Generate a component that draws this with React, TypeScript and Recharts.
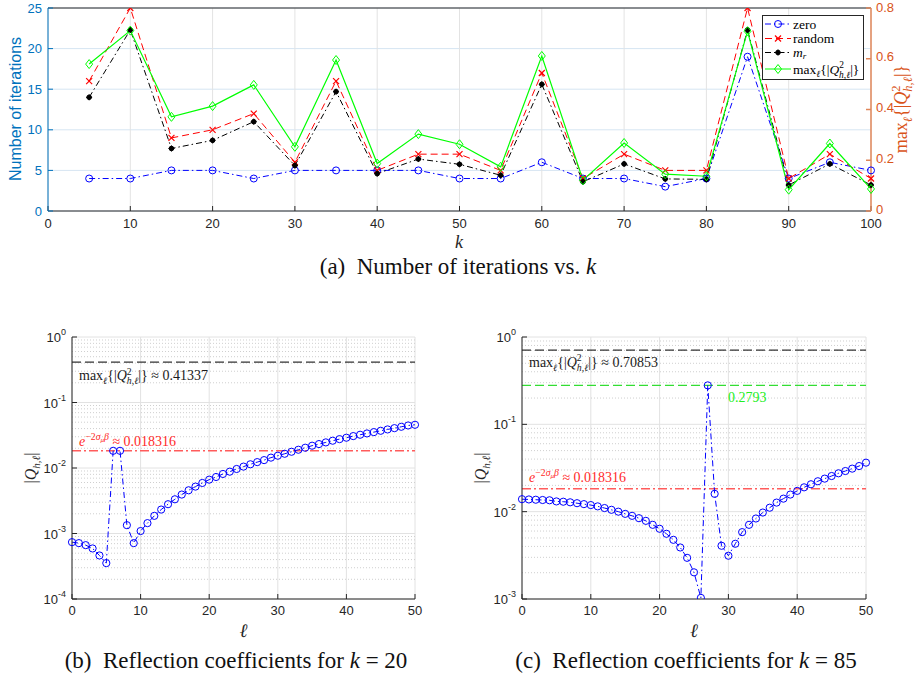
import React from 'react'
import { LineChart, Line, XAxis, YAxis, CartesianGrid, ReferenceLine } from 'recharts'

const SERIF = '"Liberation Serif", "DejaVu Serif", serif'
const SANS = '"Liberation Sans", Arial, sans-serif'
const AXIS = '#262626'
const BLUE_AX = '#0072BD'
const ORANGE_AX = '#D95319'

// (a) number of iterations vs k
const kValues = [5, 10, 15, 20, 25, 30, 35, 40, 45, 50, 55, 60, 65, 70, 75, 80, 85, 90, 95, 100]
const itersZero = [4, 4, 5, 5, 4, 5, 5, 5, 5, 4, 4, 6, 4, 4, 3, 4, 19, 4, 6, 5]
const itersRandom = [16, 25, 9, 10, 12, 6, 16, 5, 7, 7, 5, 17, 4, 7, 5, 5, 25, 4, 7, 4]
const itersMr = [14, 22.3, 7.7, 8.7, 11, 5.6, 14.7, 4.6, 6.4, 5.75, 4.4, 15.6, 3.6, 5.8, 3.95, 3.9, 22.3, 3.2, 5.8, 3.2]
const maxQ2 = [0.579, 0.711, 0.371, 0.41337, 0.497, 0.253, 0.595, 0.187, 0.303, 0.263, 0.174, 0.611, 0.121, 0.268, 0.145, 0.137, 0.70853, 0.084, 0.266, 0.087]
const kTicks = [0, 10, 20, 30, 40, 50, 60, 70, 80, 90, 100]
const iterTicks = [0, 5, 10, 15, 20, 25]
const q2Ticks = [0, 0.2, 0.4, 0.6, 0.8]

// (b), (c) reflection coefficients
const ellValues = [0, 1, 2, 3, 4, 5, 6, 7, 8, 9, 10, 11, 12, 13, 14, 15, 16, 17, 18, 19, 20, 21, 22, 23, 24, 25,
  26, 27, 28, 29, 30, 31, 32, 33, 34, 35, 36, 37, 38, 39, 40, 41, 42, 43, 44, 45, 46, 47, 48, 49, 50]
const qK20 = [7.38e-4, 7.13e-4, 6.64e-4, 5.91e-4, 4.62e-4, 3.53e-4, 1.83e-2, 1.83e-2, 1.34e-3, 7.13e-4,
  1.09e-3, 1.44e-3, 1.86e-3, 2.32e-3, 2.80e-3, 3.33e-3, 3.93e-3, 4.57e-3, 5.20e-3, 5.91e-3,
  6.64e-3, 7.29e-3, 8.11e-3, 8.79e-3, 9.66e-3, 1.05e-2, 1.14e-2, 1.23e-2, 1.32e-2, 1.44e-2,
  1.54e-2, 1.65e-2, 1.77e-2, 1.90e-2, 2.04e-2, 2.19e-2, 2.32e-2, 2.46e-2, 2.61e-2, 2.76e-2,
  2.90e-2, 3.07e-2, 3.22e-2, 3.37e-2, 3.53e-2, 3.70e-2, 3.88e-2, 4.06e-2, 4.26e-2, 4.46e-2, 4.57e-2]
const qK85 = [1.39e-2, 1.38e-2, 1.37e-2, 1.36e-2, 1.35e-2, 1.31e-2, 1.30e-2, 1.28e-2, 1.25e-2, 1.22e-2,
  1.19e-2, 1.15e-2, 1.10e-2, 1.05e-2, 1.00e-2, 9.44e-3, 8.96e-3, 8.42e-3, 7.85e-3, 7.07e-3,
  6.37e-3, 5.58e-3, 4.76e-3, 3.89e-3, 2.96e-3, 2.02e-3, 1.03e-3, 0.2793, 1.60e-2, 4.07e-3,
  3.13e-3, 4.29e-3, 5.83e-3, 7.07e-3, 8.35e-3, 9.77e-3, 1.11e-2, 1.27e-2, 1.41e-2, 1.57e-2,
  1.73e-2, 1.90e-2, 2.06e-2, 2.23e-2, 2.39e-2, 2.56e-2, 2.75e-2, 2.92e-2, 3.11e-2, 3.33e-2, 3.64e-2]
const ellTicks = [0, 10, 20, 30, 40, 50]
const decadesB = [1e-4, 1e-3, 1e-2, 1e-1, 1]
const decadesC = [1e-3, 1e-2, 1e-1, 1]
const maxQ2K20 = 0.41337
const maxQ2K85 = 0.70853
const peakK85 = 0.2793
const expBound = 0.018316

function minorLines(decades: number[]) {
  const out: number[] = []
  for (let i = 0; i < decades.length - 1; i++) for (let m = 2; m <= 9; m++) out.push(decades[i] * m)
  return out
}

const noTick = () => <g />

// math-ish text pieces
function maxQSpans(fs: number) {
  const s = fs * 0.7
  return [
    <tspan key="m">max</tspan>,
    <tspan key="l" fontSize={s} fontStyle="italic" dy={fs * 0.25}>ℓ</tspan>,
    <tspan key="b" dy={-fs * 0.25}>{'{|'}</tspan>,
    <tspan key="q" fontStyle="italic">Q</tspan>,
    <tspan key="two" fontSize={s} dy={-fs * 0.4}>2</tspan>,
    <tspan key="hl" fontSize={s} fontStyle="italic" dx={-s * 0.5} dy={fs * 0.7}>h,ℓ</tspan>,
    <tspan key="e" dy={-fs * 0.3}>{'|}'}</tspan>,
  ]
}

function expSpans(fs: number) {
  const s = fs * 0.7
  return [
    <tspan key="e" fontStyle="italic">e</tspan>,
    <tspan key="sup" fontSize={s} dy={-fs * 0.4}>−2</tspan>,
    <tspan key="sig" fontSize={s} fontStyle="italic">σ</tspan>,
    <tspan key="mu" fontSize={fs * 0.5} fontStyle="italic" dy={fs * 0.15}>μ</tspan>,
    <tspan key="beta" fontSize={s} fontStyle="italic" dy={-fs * 0.15}>β</tspan>,
    <tspan key="rest" dy={fs * 0.4}> ≈ {expBound}</tspan>,
  ]
}

// markers
const circleDot = (color: string, r = 3.5) => (p: any) =>
  p.cx == null ? <g key={p.index} /> : <circle key={p.index} cx={p.cx} cy={p.cy} r={r} fill="none" stroke={color} strokeWidth={1} />
const crossDot = (color: string) => (p: any) => (
  <g key={p.index} stroke={color} strokeWidth={1.2}>
    <line x1={p.cx - 3} y1={p.cy - 3} x2={p.cx + 3} y2={p.cy + 3} />
    <line x1={p.cx - 3} y1={p.cy + 3} x2={p.cx + 3} y2={p.cy - 3} />
  </g>
)
const starDot = (color: string) => (p: any) => (
  <g key={p.index} stroke={color} strokeWidth={1}>
    <circle cx={p.cx} cy={p.cy} r={2.3} fill={color} />
    <line x1={p.cx - 3} y1={p.cy} x2={p.cx + 3} y2={p.cy} />
    <line x1={p.cx} y1={p.cy - 3} x2={p.cx} y2={p.cy + 3} />
  </g>
)
const diamondDot = (color: string) => (p: any) => (
  <polygon key={p.index} points={`${p.cx},${p.cy - 4.5} ${p.cx + 3.5},${p.cy} ${p.cx},${p.cy + 4.5} ${p.cx - 3.5},${p.cy}`}
    fill="none" stroke={color} strokeWidth={1} />
)

const legendItems = [
  { key: 'zero', color: '#0000ff', dash: '6 3 1.5 3', marker: circleDot('#0000ff'), cy: 9 },
  { key: 'random', color: '#ff0000', dash: '7 4', marker: crossDot('#ff0000'), cy: 23.5 },
  { key: 'mr', color: '#000000', dash: '6 3 1.5 3', marker: starDot('#000000'), cy: 37.5 },
  { key: 'maxq', color: '#00ff00', dash: undefined, marker: diamondDot('#00ff00'), cy: 54 },
]

function legendText(key: string) {
  if (key === 'mr') return [<tspan key="m" fontStyle="italic">m</tspan>, <tspan key="r" fontSize={9} fontStyle="italic" dy={2}>r</tspan>]
  if (key === 'maxq') return maxQSpans(13.5)
  return key
}

function IterLegend() {
  return (
    <svg width={102} height={65} style={{ position: 'absolute', left: 762, top: 15 }}>
      <rect x={0.5} y={0.5} width={101} height={64} fill="#fff" stroke={AXIS} />
      {legendItems.map((it, i) => (
        <g key={it.key}>
          <line x1={3} y1={it.cy} x2={29} y2={it.cy} stroke={it.color} strokeDasharray={it.dash} strokeWidth={1} />
          {it.marker({ cx: 16, cy: it.cy, index: i })}
          <text x={31} y={it.cy + 4.5} fontFamily={SERIF} fontSize={13.5} fill="#000">{legendText(it.key)}</text>
        </g>
      ))}
    </svg>
  )
}

const RightTick = (p: any) => (
  <text x={p.x} y={p.y} dy={2.5} textAnchor="start" fontSize={13} fill={ORANGE_AX} fontFamily={SANS}>
    {p.payload.value}
  </text>
)

function IterationsChart() {
  const data = kValues.map((k, i) => ({ k, zero: itersZero[i], random: itersRandom[i], mr: itersMr[i], maxq: maxQ2[i] }))
  return (
    <div style={{ position: 'absolute', left: 0, top: 0 }}>
      <LineChart width={915} height={256} data={data} margin={{ top: 8, right: 0, bottom: 0, left: 0 }}>
        <CartesianGrid yAxisId="left" vertical={false} stroke="#d6e5f2" />
        <CartesianGrid yAxisId="left" horizontal={false} stroke="#e3e3e3" />
        <XAxis dataKey="k" type="number" domain={[0, 100]} ticks={kTicks} height={45} stroke={AXIS}
          tickSize={-5} tickMargin={13} tick={{ fill: AXIS, fontSize: 13, fontFamily: SANS }}
          label={() => (
            <text x={459} y={248} textAnchor="middle"
              fontFamily={SERIF} fontStyle="italic" fontSize={18} fill={AXIS}>k</text>
          )} />
        <XAxis xAxisId="top" orientation="top" type="number" domain={[0, 100]} ticks={kTicks} height={0}
          stroke={AXIS} tickSize={-5} tick={noTick} />
        <YAxis yAxisId="left" type="number" domain={[0, 25]} ticks={iterTicks} width={48} stroke={BLUE_AX}
          tickSize={-5} tickMargin={11} tick={{ fill: BLUE_AX, fontSize: 13, fontFamily: SANS }} allowDataOverflow
          label={() => {
            const cx = 21, cy = 109
            return (
              <text x={cx} y={cy} transform={`rotate(-90 ${cx} ${cy})`} textAnchor="middle"
                fontFamily={SANS} fontSize={16} fill={BLUE_AX}>Number of iterations</text>
            )
          }} />
        <YAxis yAxisId="right" orientation="right" type="number" domain={[0, 0.8]} ticks={q2Ticks} width={44}
          stroke="#e0875a" strokeWidth={1.5} tickSize={-5} tickMargin={10} tick={RightTick} allowDataOverflow
          label={() => {
            const cx = 907, cy = 109
            return (
              <text x={cx} y={cy} transform={`rotate(-90 ${cx} ${cy})`} textAnchor="middle"
                fontFamily={SERIF} fontSize={18} fill={ORANGE_AX}>{maxQSpans(18)}</text>
            )
          }} />
        <ReferenceLine yAxisId="left" y={25} stroke={AXIS} />
        <Line yAxisId="left" dataKey="zero" stroke="#0000ff" strokeWidth={1} strokeDasharray="6 3 1.5 3"
          dot={circleDot('#0000ff')} isAnimationActive={false} />
        <Line yAxisId="left" dataKey="random" stroke="#ff0000" strokeWidth={1} strokeDasharray="7 4"
          dot={crossDot('#ff0000')} isAnimationActive={false} />
        <Line yAxisId="left" dataKey="mr" stroke="#000000" strokeWidth={1} strokeDasharray="6 3 1.5 3"
          dot={starDot('#000000')} isAnimationActive={false} />
        <Line yAxisId="right" dataKey="maxq" stroke="#00ff00" strokeWidth={1.2}
          dot={diamondDot('#00ff00')} isAnimationActive={false} />
      </LineChart>
      <IterLegend />
    </div>
  )
}

const PowTick = (p: any) => {
  const exp = Math.round(Math.log10(p.payload.value))
  return (
    <text x={p.x} y={p.y} dy={5} textAnchor="end" fontSize={13} fill={AXIS} fontFamily={SANS}>
      10<tspan dy={-7} fontSize={9}>{exp}</tspan>
    </text>
  )
}

type RefSpec = { y: number; stroke: string; dash: string; width?: number; label?: (vb: any) => React.ReactNode }

function ReflectionChart({ left, width, yAxisWidth, rightMargin, values, decades, refs }: {
  left: number; width: number; yAxisWidth: number; rightMargin: number; values: number[]; decades: number[]; refs: RefSpec[]
}) {
  const data = ellValues.map((l, i) => ({ l, q: values[i] }))
  const domain = [decades[0], decades[decades.length - 1]]
  const plotLeft = yAxisWidth
  const plotRight = width - rightMargin
  return (
    <div style={{ position: 'absolute', left, top: 320 }}>
      <LineChart width={width} height={330} data={data} margin={{ top: 17, right: rightMargin, bottom: 0, left: 0 }}>
        {minorLines(decades).map(v => (
          <ReferenceLine key={v} y={v} stroke="#cfcfcf" strokeDasharray="1 2" />
        ))}
        <CartesianGrid stroke="#e2e2e2" />
        <XAxis dataKey="l" type="number" domain={[0, 50]} ticks={ellTicks} height={51} stroke={AXIS}
          tickSize={-5} tickMargin={12} tick={{ fill: AXIS, fontSize: 13, fontFamily: SANS }}
          label={() => (
            <text x={(plotLeft + plotRight) / 2} y={317} textAnchor="middle"
              fontFamily={SERIF} fontStyle="italic" fontSize={19} fill={AXIS}>ℓ</text>
          )} />
        <XAxis xAxisId="top" orientation="top" type="number" domain={[0, 50]} ticks={ellTicks} height={0}
          stroke={AXIS} tickSize={-5} tick={noTick} />
        <YAxis type="number" scale="log" domain={domain} ticks={decades} width={yAxisWidth} stroke={AXIS}
          tickSize={-5} tickMargin={11} tick={PowTick} allowDataOverflow
          label={() => {
            const cx = plotLeft - 36, cy = 148
            return (
              <text x={cx} y={cy} transform={`rotate(-90 ${cx} ${cy})`} textAnchor="middle"
                fontFamily={SERIF} fontSize={16} fill={AXIS}>
                |<tspan fontStyle="italic">Q</tspan><tspan fontSize={11} fontStyle="italic" dy={4}>h,ℓ</tspan>
                <tspan dy={-4}>|</tspan>
              </text>
            )
          }} />
        <YAxis yAxisId="r" orientation="right" type="number" scale="log" domain={domain} ticks={decades} width={0}
          stroke={AXIS} tickSize={-5} tick={noTick} allowDataOverflow />
        {refs.map(r => (
          <ReferenceLine key={r.y} y={r.y} stroke={r.stroke} strokeDasharray={r.dash} strokeWidth={r.width ?? 1.3}
            label={r.label ? (p: any) => r.label!(p.viewBox) : undefined} />
        ))}
        <Line dataKey="q" stroke="#0000ff" strokeWidth={1} strokeDasharray="6 3 1.5 3"
          dot={circleDot('#0000ff', 3.6)} isAnimationActive={false} />
      </LineChart>
    </div>
  )
}

const blackLabel = (val: number, dy: number) => (vb: any) => (
  <text x={vb.x + 7} y={vb.y + dy} fontFamily={SERIF} fontSize={14} fill="#1a1a1a">
    {maxQSpans(14)}<tspan> ≈ {val}</tspan>
  </text>
)
const redLabel = (dy: number) => (vb: any) => (
  <text x={vb.x + 7} y={vb.y + dy} fontFamily={SERIF} fontSize={14} fill="#ff2a2a">{expSpans(14)}</text>
)

const captionStyle: React.CSSProperties = {
  position: 'absolute', fontFamily: SERIF, fontSize: 23, color: '#111', whiteSpace: 'nowrap', transform: 'translateX(-50%)',
}

export default function App() {
  return (
    <div style={{ position: 'absolute', left: 0, top: 0, width: 915, height: 682, background: '#fff', overflow: 'hidden' }}>
      <IterationsChart />
      <div style={{ ...captionStyle, left: 458, top: 254 }}>(a)&nbsp; Number of iterations vs. <i>k</i></div>
      <ReflectionChart left={0} width={450} yAxisWidth={72} rightMargin={35} values={qK20} decades={decadesB}
        refs={[
          { y: maxQ2K20, stroke: '#333', dash: '9 4', label: blackLabel(maxQ2K20, 18) },
          { y: expBound, stroke: '#ff5c5c', dash: '9 3 2 3', width: 1.5, label: redLabel(-5) },
        ]} />
      <ReflectionChart left={455} width={460} yAxisWidth={67} rightMargin={49} values={qK85} decades={decadesC}
        refs={[
          { y: maxQ2K85, stroke: '#333', dash: '9 4', label: blackLabel(maxQ2K85, 17) },
          {
            y: peakK85, stroke: '#33dd33', dash: '9 4', label: (vb: any) => (
              <text x={vb.x + 206} y={vb.y + 17} fontFamily={SERIF} fontSize={14} fill="#22ee22">{peakK85}</text>
            ),
          },
          { y: expBound, stroke: '#ff5c5c', dash: '9 3 2 3', width: 1.5, label: redLabel(-7) },
        ]} />
      <div style={{ ...captionStyle, left: 236, top: 648 }}>(b)&nbsp; Reflection coefficients for <i>k</i> = 20</div>
      <div style={{ ...captionStyle, left: 686, top: 648 }}>(c)&nbsp; Reflection coefficients for <i>k</i> = 85</div>
    </div>
  )
}
